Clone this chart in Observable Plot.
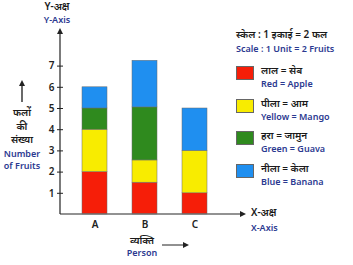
<!DOCTYPE html>
<html><head><meta charset="utf-8">
<script src="https://cdn.jsdelivr.net/npm/d3@7"></script>
<script src="https://cdn.jsdelivr.net/npm/@observablehq/plot@0.6"></script>
<style>
body{margin:0;background:#fff;font-family:"Noto Sans",Roboto,sans-serif}
#wrap{position:relative;width:353px;height:265px;overflow:hidden;background:#fff}
#wrap svg{position:absolute;left:0;top:0}
.t{position:absolute;white-space:nowrap;font-size:10px;line-height:1.1;color:#1a1a1a;font-weight:600}
.e{color:#2b3990;font-size:9px}
.c{transform:translateX(-50%);text-align:center}
.sw{position:absolute;width:16px;height:12px;border:0.6px solid #666}
</style></head><body><div id="wrap"></div>
<script>
const persons = ["A", "B", "C"];
const fruits = ["Apple", "Mango", "Guava", "Banana"];
const fruitColors = ["#f61e08", "#f8ec00", "#2f8a1e", "#1f8ff0"];
const apple = [2, 1.5, 1];
const mango = [2, 1.05, 2];
const guava = [1, 2.5, 0];
const banana = [1, 2.2, 2];
const yTicks = [1, 2, 3, 4, 5, 6, 7];
const legendHindi = ["लाल = सेब", "पीला = आम", "हरा = जामुन", "नीला = केला"];
const legendEnglish = ["Red = Apple", "Yellow = Mango", "Green = Guava", "Blue = Banana"];

const series = [apple, mango, guava, banana];
const rows = [];
persons.forEach((p, i) => fruits.forEach((f, j) => rows.push({person: p, fruit: f, value: series[j][i]})));

function axesArrows(index, scales, values, dims) {
  const g = d3.create("svg:g");
  const y0 = scales.y(0);
  const x0 = dims.marginLeft;
  const xEnd = dims.width - dims.marginRight;
  g.append("line").attr("x1", x0).attr("x2", xEnd - 4).attr("y1", y0).attr("y2", y0)
    .attr("stroke", "#6e6e6e").attr("stroke-width", 1.6);
  g.append("path").attr("d", `M${xEnd},${y0}L${xEnd-6},${y0-3}L${xEnd-6},${y0+3}Z`).attr("fill", "#222");
  const yTop = 28;
  g.append("line").attr("x1", x0).attr("x2", x0).attr("y1", y0).attr("y2", yTop + 4)
    .attr("stroke", "#222").attr("stroke-width", 1.2);
  g.append("path").attr("d", `M${x0},${yTop}L${x0-3},${yTop+6}L${x0+3},${yTop+6}Z`).attr("fill", "#222");
  g.append("line").attr("x1", 22).attr("x2", 22).attr("y1", 102).attr("y2", 84).attr("stroke", "#444").attr("stroke-width", 1.6);
  g.append("path").attr("d", `M22,80L19,86L25,86Z`).attr("fill", "#222");
  g.append("line").attr("x1", 162).attr("x2", 184).attr("y1", 245).attr("y2", 245).attr("stroke", "#222").attr("stroke-width", 1);
  g.append("path").attr("d", `M189,245L183,242L183,248Z`).attr("fill", "#222");
  return g.node();
}

const chart = Plot.plot({
  width: 353,
  height: 265,
  marginLeft: 60,
  marginRight: 107,
  marginTop: 28,
  marginBottom: 51,
  style: {fontFamily: "'Noto Sans', Roboto, sans-serif", background: "transparent", color: "#222"},
  x: {domain: persons, range: [60, 228], paddingInner: 0.5, paddingOuter: 0.43, label: null},
  y: {domain: [0, 7], range: [214, 65.6], label: null},
  color: {domain: fruits, range: fruitColors},
  marks: [
    Plot.barY(rows, {x: "person", y: "value", fill: "fruit", z: "fruit", stroke: "#6a6a6a", strokeWidth: 0.5}),
    axesArrows,
    Plot.axisY({ticks: yTicks, tickSize: 6, dx: 3, tickPadding: 3, fontSize: 10, fontWeight: 600, label: null, tickFormat: d => d}),
    Plot.axisX({tickSize: 0, tickPadding: 6, fontSize: 10, fontWeight: 600, label: null})
  ]
});
const wrap = document.getElementById("wrap");
wrap.appendChild(chart);

function addText(txt, x, y, cls) {
  const d = document.createElement("div");
  d.className = "t " + (cls || "");
  d.textContent = txt;
  d.style.left = x + "px";
  d.style.top = y + "px";
  wrap.appendChild(d);
  return d;
}
addText("Y-अक्ष", 57, 1, "c");
addText("Y-Axis", 57, 15, "c e");
addText("फलों", 22, 107, "c");
addText("की", 22, 121, "c");
addText("संख्या", 22, 134, "c");
addText("Number", 22, 149, "c e");
addText("of Fruits", 22, 161, "c e");
addText("स्केल : 1 इकाई = 2 फल", 236, 29, "");
addText("Scale : 1 Unit = 2 Fruits", 236, 44, "e");
legendHindi.forEach((h, i) => {
  const top = 66 + i * 32.6;
  const s = document.createElement("div");
  s.className = "sw";
  s.style.left = "236px"; s.style.top = top + "px";
  s.style.background = fruitColors[i];
  wrap.appendChild(s);
  addText(h, 261, top - 1, "");
  addText(legendEnglish[i], 261, top + 13, "e");
});
addText("X-अक्ष", 251, 207, "");
addText("X-Axis", 251, 223, "e");
addText("व्यक्ति", 142, 235, "c");
addText("Person", 142, 248, "c e");
</script>
</body></html>
